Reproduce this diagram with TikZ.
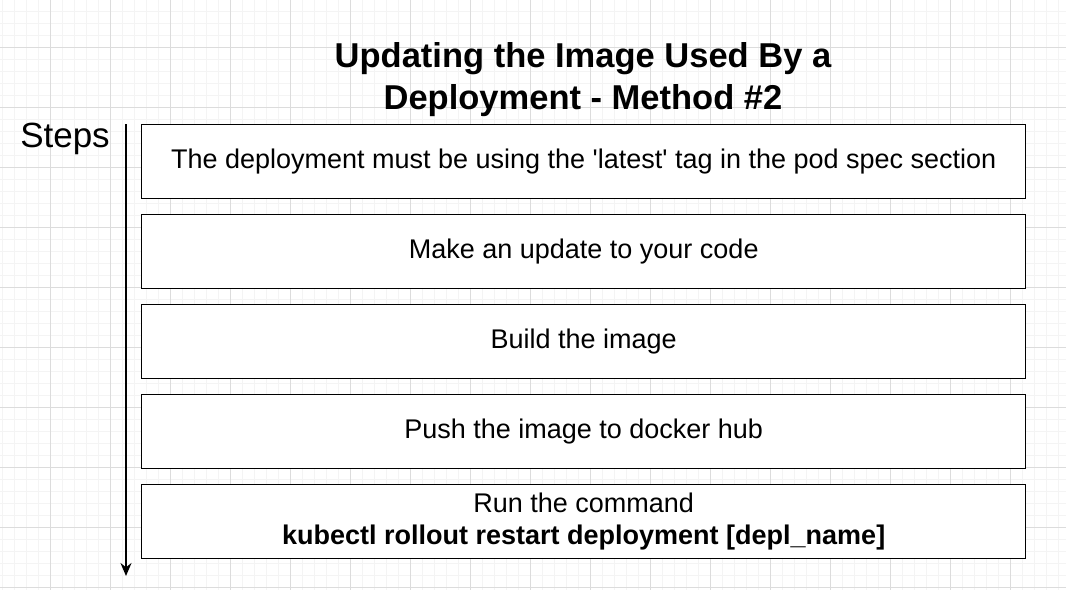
\documentclass[tikz,border=0pt]{standalone}
\usepackage{fontspec}
\setmainfont{Liberation Sans}[Ligatures=TeXOff]
\usetikzlibrary{arrows.meta}
\definecolor{gridmajor}{HTML}{DCDCDC}
\definecolor{gridminor}{HTML}{F4F4F4}
\tikzset{
  stepbox/.style={draw=black, line width=1.4pt, fill=white, minimum width=884pt, minimum height=74pt, inner sep=0pt, anchor=north west, font=\fontsize{27}{32}\selectfont, align=center},
  titletext/.style={font=\fontsize{34.5}{42}\selectfont\bfseries, align=center},
}
\begin{document}
\begin{tikzpicture}[x=1pt,y=-1pt]
\useasboundingbox (0,0) rectangle (1066,590);
\fill[white] (0,0) rectangle (1066,590);
% minor grid
\foreach \i in {-1,...,90} {
  \draw[gridminor, line width=1pt] ({2+12*\i},0) -- ({2+12*\i},590);
}
\foreach \i in {-1,...,50} {
  \draw[gridminor, line width=1pt] (0,{-1+12*\i}) -- (1066,{-1+12*\i});
}
% major grid
\foreach \i in {-1,...,18} {
  \draw[gridmajor, line width=1pt] ({50+60*\i},0) -- ({50+60*\i},590);
}
\foreach \i in {-1,...,10} {
  \draw[gridmajor, line width=1pt] (0,{47+60*\i}) -- (1066,{47+60*\i});
}
\node[titletext] (title) at (583,80) {Updating the Image Used By a\\Deployment - Method \#2};
\node[font=\fontsize{35}{40}\selectfont] (steps) at (65,139) {Steps};
\node[stepbox] (b1) at (141,124) {The deployment must be using the 'latest' tag in the pod spec section};
\node[stepbox] (b2) at (141,214) {Make an update to your code};
\node[stepbox] (b3) at (141,304) {Build the image};
\node[stepbox] (b4) at (141,394) {Push the image to docker hub};
\node[stepbox] (b5) at (141,484) {Run the command\\\textbf{kubectl rollout restart deployment [depl\_name]}};
\coordinate (astart) at (126,124);
\coordinate (aend) at (126,576);
\draw[line width=1.3pt, -{Stealth[length=13pt,width=11pt]}] (astart) -- (aend);
\end{tikzpicture}
\end{document}
